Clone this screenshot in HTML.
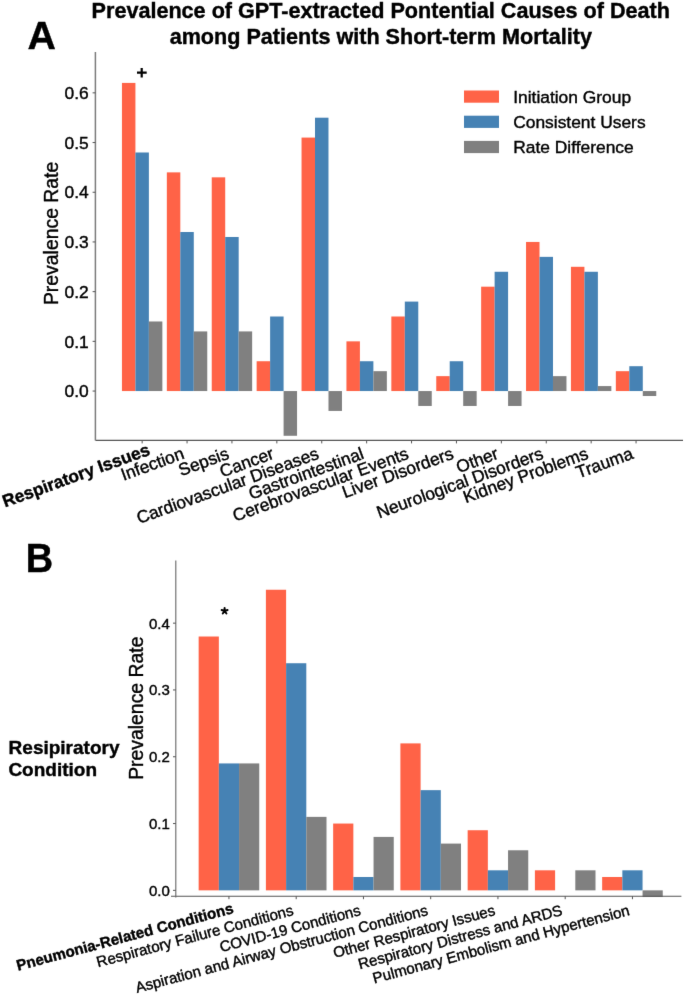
<!DOCTYPE html>
<html><head><meta charset="utf-8"><style>
html,body{margin:0;padding:0;background:#fff;}
svg{display:block;}
text{font-family:"Liberation Sans",sans-serif;stroke:#000;stroke-width:0.4px;}
</style></head><body>
<svg width="685" height="995" viewBox="0 0 685 995">
<defs><filter id="bl" x="0" y="0" width="1" height="1" color-interpolation-filters="sRGB"><feConvolveMatrix order="3" kernelMatrix="0.00524 0.06192 0.00524 0.06192 0.73137 0.06192 0.00524 0.06192 0.00524" divisor="1" edgeMode="duplicate" preserveAlpha="true"/></filter></defs>
<rect width="685" height="995" fill="#fff"/>
<g filter="url(#bl)">
<rect x="-10" y="-10" width="705" height="1015" fill="#fff"/>
<rect x="121.95" y="82.91" width="13.47" height="308.14" fill="#FF6347"/>
<rect x="135.41" y="152.49" width="13.47" height="238.56" fill="#4682B4"/>
<rect x="148.88" y="321.47" width="13.47" height="69.58" fill="#808080"/>
<rect x="166.84" y="172.37" width="13.47" height="218.68" fill="#FF6347"/>
<rect x="180.31" y="232.01" width="13.47" height="159.04" fill="#4682B4"/>
<rect x="193.78" y="331.41" width="13.47" height="59.64" fill="#808080"/>
<rect x="211.74" y="177.34" width="13.47" height="213.71" fill="#FF6347"/>
<rect x="225.21" y="236.98" width="13.47" height="154.07" fill="#4682B4"/>
<rect x="238.68" y="331.41" width="13.47" height="59.64" fill="#808080"/>
<rect x="256.64" y="361.23" width="13.47" height="29.82" fill="#FF6347"/>
<rect x="270.12" y="316.50" width="13.47" height="74.55" fill="#4682B4"/>
<rect x="283.59" y="391.05" width="13.47" height="44.73" fill="#808080"/>
<rect x="301.54" y="137.58" width="13.47" height="253.47" fill="#FF6347"/>
<rect x="315.01" y="117.70" width="13.47" height="273.35" fill="#4682B4"/>
<rect x="328.49" y="391.05" width="13.47" height="19.88" fill="#808080"/>
<rect x="346.44" y="341.35" width="13.47" height="49.70" fill="#FF6347"/>
<rect x="359.91" y="361.23" width="13.47" height="29.82" fill="#4682B4"/>
<rect x="373.38" y="371.17" width="13.47" height="19.88" fill="#808080"/>
<rect x="391.34" y="316.50" width="13.47" height="74.55" fill="#FF6347"/>
<rect x="404.81" y="301.59" width="13.47" height="89.46" fill="#4682B4"/>
<rect x="418.28" y="391.05" width="13.47" height="14.91" fill="#808080"/>
<rect x="436.25" y="376.14" width="13.47" height="14.91" fill="#FF6347"/>
<rect x="449.72" y="361.23" width="13.47" height="29.82" fill="#4682B4"/>
<rect x="463.19" y="391.05" width="13.47" height="14.91" fill="#808080"/>
<rect x="481.14" y="286.68" width="13.47" height="104.37" fill="#FF6347"/>
<rect x="494.62" y="271.77" width="13.47" height="119.28" fill="#4682B4"/>
<rect x="508.09" y="391.05" width="13.47" height="14.91" fill="#808080"/>
<rect x="526.04" y="241.95" width="13.47" height="149.10" fill="#FF6347"/>
<rect x="539.51" y="256.86" width="13.47" height="134.19" fill="#4682B4"/>
<rect x="552.99" y="376.14" width="13.47" height="14.91" fill="#808080"/>
<rect x="570.94" y="266.80" width="13.47" height="124.25" fill="#FF6347"/>
<rect x="584.41" y="271.77" width="13.47" height="119.28" fill="#4682B4"/>
<rect x="597.88" y="386.08" width="13.47" height="4.97" fill="#808080"/>
<rect x="615.84" y="371.17" width="13.47" height="19.88" fill="#FF6347"/>
<rect x="629.31" y="366.20" width="13.47" height="24.85" fill="#4682B4"/>
<rect x="642.78" y="391.05" width="13.47" height="4.97" fill="#808080"/>
<path d="M95.50 440.40H683.00" fill="none" stroke="#555555" stroke-width="1.1"/>
<path d="M95.40 52.00V440.40" fill="none" stroke="#7c7c7c" stroke-width="1.5"/>
<line x1="92.60" y1="391.05" x2="95.40" y2="391.05" stroke="#555555" stroke-width="1"/>
<text x="88.80" y="397.28" font-size="17.4" text-anchor="end" fill="#000">0.0</text>
<line x1="92.60" y1="341.35" x2="95.40" y2="341.35" stroke="#555555" stroke-width="1"/>
<text x="88.80" y="347.58" font-size="17.4" text-anchor="end" fill="#000">0.1</text>
<line x1="92.60" y1="291.65" x2="95.40" y2="291.65" stroke="#555555" stroke-width="1"/>
<text x="88.80" y="297.88" font-size="17.4" text-anchor="end" fill="#000">0.2</text>
<line x1="92.60" y1="241.95" x2="95.40" y2="241.95" stroke="#555555" stroke-width="1"/>
<text x="88.80" y="248.18" font-size="17.4" text-anchor="end" fill="#000">0.3</text>
<line x1="92.60" y1="192.25" x2="95.40" y2="192.25" stroke="#555555" stroke-width="1"/>
<text x="88.80" y="198.48" font-size="17.4" text-anchor="end" fill="#000">0.4</text>
<line x1="92.60" y1="142.55" x2="95.40" y2="142.55" stroke="#555555" stroke-width="1"/>
<text x="88.80" y="148.78" font-size="17.4" text-anchor="end" fill="#000">0.5</text>
<line x1="92.60" y1="92.85" x2="95.40" y2="92.85" stroke="#555555" stroke-width="1"/>
<text x="88.80" y="99.08" font-size="17.4" text-anchor="end" fill="#000">0.6</text>
<line x1="142.15" y1="440.40" x2="142.15" y2="443.40" stroke="#555555" stroke-width="1"/>
<text transform="translate(140.35,458.30) rotate(-20)" x="-144.08" font-size="17.4" font-weight="bold" fill="#000">Respiratory Issues</text>
<line x1="187.05" y1="440.40" x2="187.05" y2="443.40" stroke="#555555" stroke-width="1"/>
<text transform="translate(185.25,458.30) rotate(-20)" font-size="17.4" text-anchor="end" fill="#000">Infection</text>
<line x1="231.95" y1="440.40" x2="231.95" y2="443.40" stroke="#555555" stroke-width="1"/>
<text transform="translate(230.15,458.30) rotate(-20)" font-size="17.4" text-anchor="end" fill="#000">Sepsis</text>
<line x1="276.85" y1="440.40" x2="276.85" y2="443.40" stroke="#555555" stroke-width="1"/>
<text transform="translate(275.05,458.30) rotate(-20)" font-size="17.4" text-anchor="end" fill="#000">Cancer</text>
<line x1="321.75" y1="440.40" x2="321.75" y2="443.40" stroke="#555555" stroke-width="1"/>
<text transform="translate(319.95,458.30) rotate(-20)" font-size="17.4" text-anchor="end" fill="#000">Cardiovascular Diseases</text>
<line x1="366.65" y1="440.40" x2="366.65" y2="443.40" stroke="#555555" stroke-width="1"/>
<text transform="translate(364.85,458.30) rotate(-20)" font-size="17.4" text-anchor="end" fill="#000">Gastrointestinal</text>
<line x1="411.55" y1="440.40" x2="411.55" y2="443.40" stroke="#555555" stroke-width="1"/>
<text transform="translate(409.75,458.30) rotate(-20)" font-size="17.4" text-anchor="end" fill="#000">Cerebrovascular Events</text>
<line x1="456.45" y1="440.40" x2="456.45" y2="443.40" stroke="#555555" stroke-width="1"/>
<text transform="translate(454.65,458.30) rotate(-20)" font-size="17.4" text-anchor="end" fill="#000">Liver Disorders</text>
<line x1="501.35" y1="440.40" x2="501.35" y2="443.40" stroke="#555555" stroke-width="1"/>
<text transform="translate(499.55,458.30) rotate(-20)" font-size="17.4" text-anchor="end" fill="#000">Other</text>
<line x1="546.25" y1="440.40" x2="546.25" y2="443.40" stroke="#555555" stroke-width="1"/>
<text transform="translate(544.45,458.30) rotate(-20)" font-size="17.4" text-anchor="end" fill="#000">Neurological Disorders</text>
<line x1="591.15" y1="440.40" x2="591.15" y2="443.40" stroke="#555555" stroke-width="1"/>
<text transform="translate(589.35,458.30) rotate(-20)" font-size="17.4" text-anchor="end" fill="#000">Kidney Problems</text>
<line x1="636.05" y1="440.40" x2="636.05" y2="443.40" stroke="#555555" stroke-width="1"/>
<text transform="translate(634.25,458.30) rotate(-20)" font-size="17.4" text-anchor="end" fill="#000">Trauma</text>
<text transform="translate(57.70,233.40) rotate(-90)" font-size="19.4" text-anchor="middle" fill="#000">Prevalence Rate</text>
<rect x="198.65" y="636.51" width="20.20" height="253.84" fill="#FF6347"/>
<rect x="218.85" y="763.43" width="20.20" height="126.92" fill="#4682B4"/>
<rect x="239.05" y="763.43" width="20.20" height="126.92" fill="#808080"/>
<rect x="265.90" y="589.75" width="20.20" height="300.60" fill="#FF6347"/>
<rect x="286.10" y="663.23" width="20.20" height="227.12" fill="#4682B4"/>
<rect x="306.30" y="816.87" width="20.20" height="73.48" fill="#808080"/>
<rect x="333.15" y="823.55" width="20.20" height="66.80" fill="#FF6347"/>
<rect x="353.35" y="876.99" width="20.20" height="13.36" fill="#4682B4"/>
<rect x="373.55" y="836.91" width="20.20" height="53.44" fill="#808080"/>
<rect x="400.40" y="743.39" width="20.20" height="146.96" fill="#FF6347"/>
<rect x="420.60" y="790.15" width="20.20" height="100.20" fill="#4682B4"/>
<rect x="440.80" y="843.59" width="20.20" height="46.76" fill="#808080"/>
<rect x="467.65" y="830.23" width="20.20" height="60.12" fill="#FF6347"/>
<rect x="487.85" y="870.31" width="20.20" height="20.04" fill="#4682B4"/>
<rect x="508.05" y="850.27" width="20.20" height="40.08" fill="#808080"/>
<rect x="534.90" y="870.31" width="20.20" height="20.04" fill="#FF6347"/>
<rect x="575.30" y="870.31" width="20.20" height="20.04" fill="#808080"/>
<rect x="602.15" y="876.99" width="20.20" height="13.36" fill="#FF6347"/>
<rect x="622.35" y="870.31" width="20.20" height="20.04" fill="#4682B4"/>
<rect x="642.55" y="890.35" width="20.20" height="6.68" fill="#808080"/>
<path d="M171.00 896.20H681.40" fill="none" stroke="#555555" stroke-width="1.1"/>
<path d="M175.80 560.50V897.40" fill="none" stroke="#666" stroke-width="1.1"/>
<line x1="173.00" y1="890.35" x2="175.80" y2="890.35" stroke="#555555" stroke-width="1"/>
<text x="169.80" y="895.72" font-size="15.0" text-anchor="end" fill="#000">0.0</text>
<line x1="173.00" y1="823.55" x2="175.80" y2="823.55" stroke="#555555" stroke-width="1"/>
<text x="169.80" y="828.92" font-size="15.0" text-anchor="end" fill="#000">0.1</text>
<line x1="173.00" y1="756.75" x2="175.80" y2="756.75" stroke="#555555" stroke-width="1"/>
<text x="169.80" y="762.12" font-size="15.0" text-anchor="end" fill="#000">0.2</text>
<line x1="173.00" y1="689.95" x2="175.80" y2="689.95" stroke="#555555" stroke-width="1"/>
<text x="169.80" y="695.32" font-size="15.0" text-anchor="end" fill="#000">0.3</text>
<line x1="173.00" y1="623.15" x2="175.80" y2="623.15" stroke="#555555" stroke-width="1"/>
<text x="169.80" y="628.52" font-size="15.0" text-anchor="end" fill="#000">0.4</text>
<line x1="228.95" y1="896.20" x2="228.95" y2="899.20" stroke="#555555" stroke-width="1"/>
<text transform="translate(226.95,914.80) rotate(-15)" x="-216.30" font-size="15.1" font-weight="bold" fill="#000">Pneumonia-Related Conditions</text>
<line x1="296.20" y1="896.20" x2="296.20" y2="899.20" stroke="#555555" stroke-width="1"/>
<text transform="translate(294.20,914.80) rotate(-15)" font-size="15.1" text-anchor="end" fill="#000">Respiratory Failure Conditions</text>
<line x1="363.45" y1="896.20" x2="363.45" y2="899.20" stroke="#555555" stroke-width="1"/>
<text transform="translate(361.45,914.80) rotate(-15)" font-size="15.1" text-anchor="end" fill="#000">COVID-19 Conditions</text>
<line x1="430.70" y1="896.20" x2="430.70" y2="899.20" stroke="#555555" stroke-width="1"/>
<text transform="translate(428.70,914.80) rotate(-15)" font-size="15.1" text-anchor="end" fill="#000">Aspiration and Airway Obstruction Conditions</text>
<line x1="497.95" y1="896.20" x2="497.95" y2="899.20" stroke="#555555" stroke-width="1"/>
<text transform="translate(495.95,914.80) rotate(-15)" font-size="15.1" text-anchor="end" fill="#000">Other Respiratory Issues</text>
<line x1="565.20" y1="896.20" x2="565.20" y2="899.20" stroke="#555555" stroke-width="1"/>
<text transform="translate(563.20,914.80) rotate(-15)" font-size="15.1" text-anchor="end" fill="#000">Respiratory Distress and ARDS</text>
<line x1="632.45" y1="896.20" x2="632.45" y2="899.20" stroke="#555555" stroke-width="1"/>
<text transform="translate(630.45,914.80) rotate(-15)" font-size="15.1" text-anchor="end" fill="#000">Pulmonary Embolism and Hypertension</text>
<text transform="translate(142.80,708.20) rotate(-90)" font-size="19.4" text-anchor="middle" fill="#000">Prevalence Rate</text>
<text x="380.8" y="18.0" font-size="21.6" font-weight="bold" text-anchor="middle" fill="#000">Prevalence of GPT-extracted Pontential Causes of Death</text>
<text x="380.8" y="44.2" font-size="21.6" font-weight="bold" text-anchor="middle" fill="#000">among Patients with Short-term Mortality</text>
<text x="27.4" y="49.3" font-size="39.3" font-weight="bold" fill="#000">A</text>
<text transform="translate(25.8,571.6) scale(0.955,1)" font-size="39.8" font-weight="bold" fill="#000">B</text>
<path d="M137.0 72.7H146.7M141.7 68.0V77.4" stroke="#000" stroke-width="2.2" fill="none"/>
<path d="M224.60 611.00L224.60 607.90M224.60 611.00L221.65 610.04M224.60 611.00L222.78 613.51M224.60 611.00L226.42 613.51M224.60 611.00L227.55 610.04" stroke="#000" stroke-width="2.0" stroke-linecap="round" fill="none"/>
<rect x="464" y="90.50" width="35" height="12.2" fill="#FF6347"/>
<text x="513.2" y="102.90" font-size="17.4" fill="#000">Initiation Group</text>
<rect x="464" y="115.70" width="35" height="12.2" fill="#4682B4"/>
<text x="513.2" y="128.10" font-size="17.4" fill="#000">Consistent Users</text>
<rect x="464" y="140.90" width="35" height="12.2" fill="#808080"/>
<text x="513.2" y="153.30" font-size="17.4" fill="#000">Rate Difference</text>
<text x="8.6" y="753.6" font-size="19" font-weight="bold" fill="#000">Resipiratory</text>
<text x="8.4" y="776.4" font-size="19" font-weight="bold" fill="#000">Condition</text>
</g>
</svg></body></html>
